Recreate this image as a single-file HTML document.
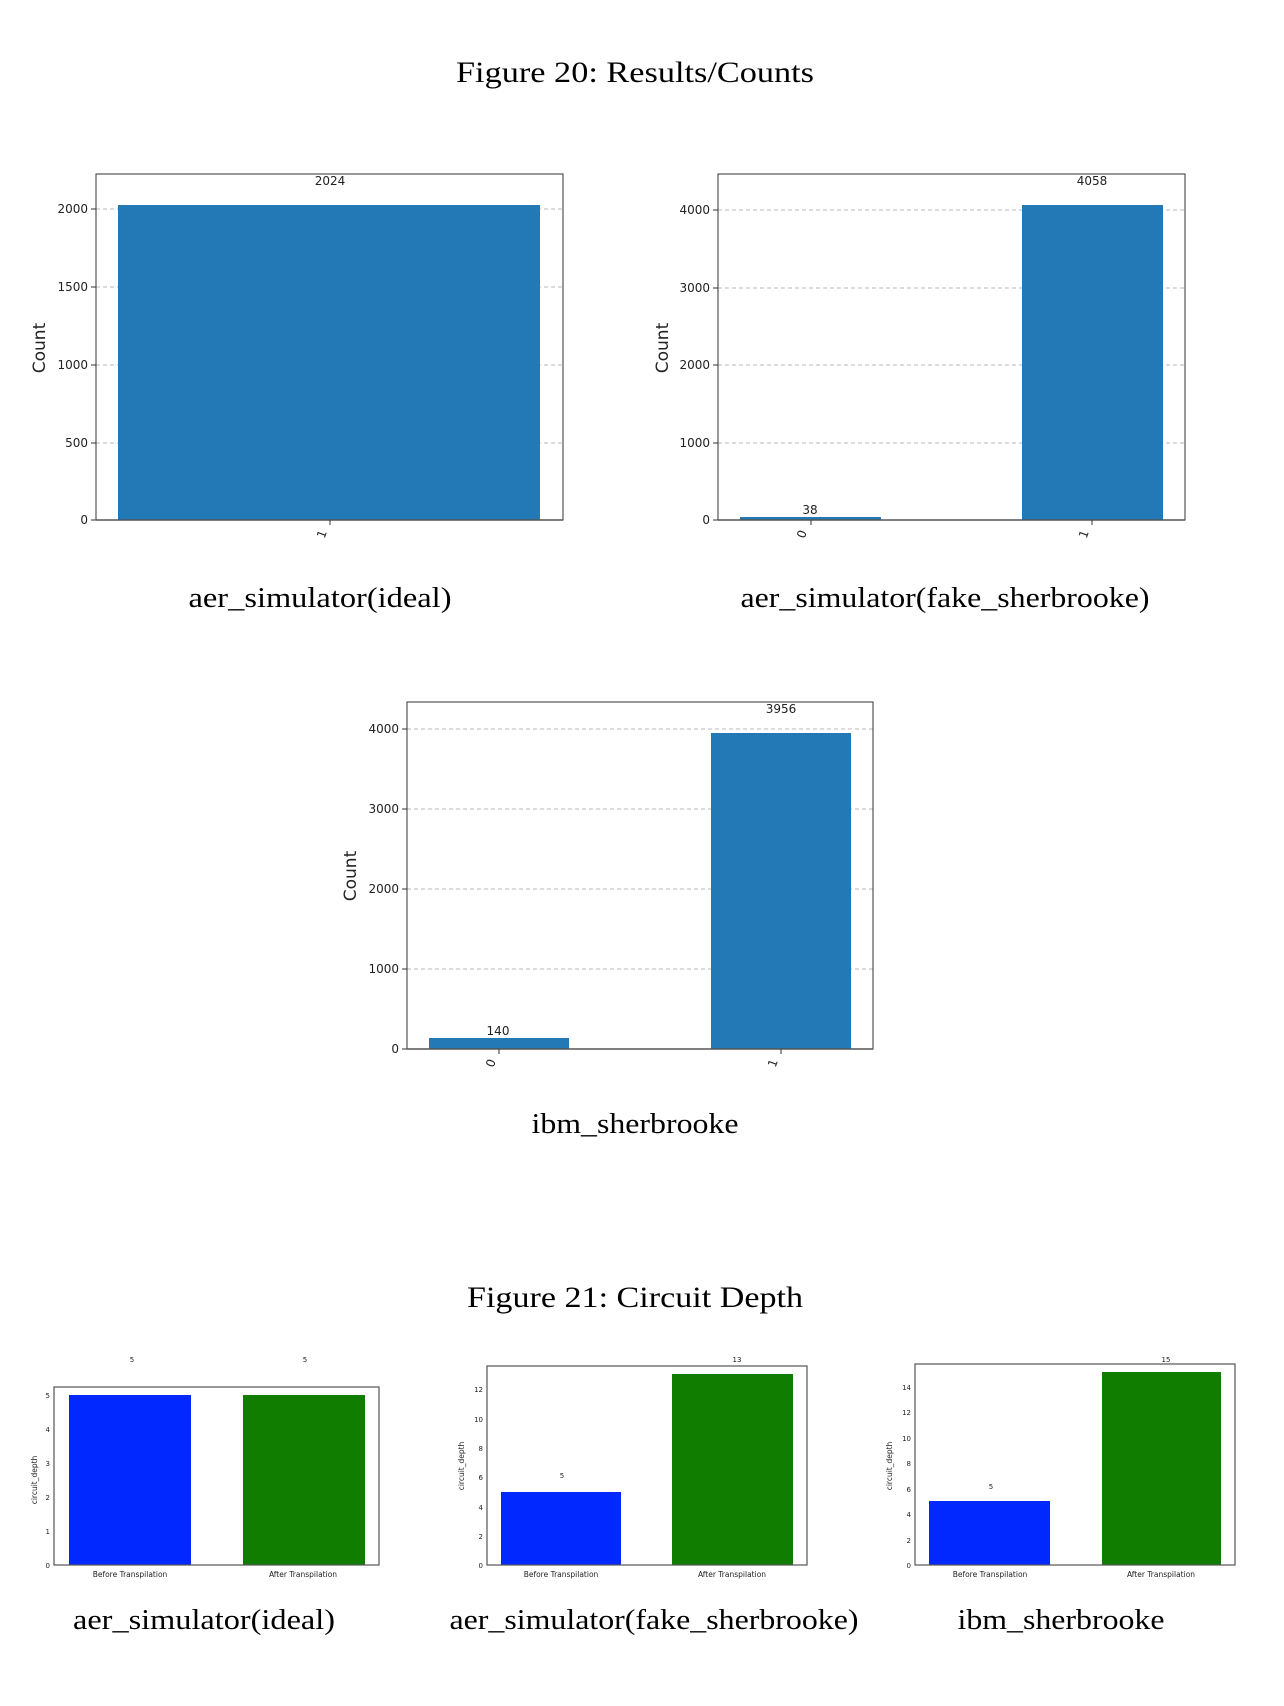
<!DOCTYPE html>
<html><head><meta charset="utf-8"><style>
html,body{margin:0;padding:0;background:#fff;}
svg{display:block;}
.serif{font-family:"Liberation Serif",serif;fill:#000;}
.sans{font-family:"DejaVu Sans","Liberation Sans",sans-serif;fill:#222;}
</style></head><body>
<svg width="1284" height="1706" viewBox="0 0 1284 1706" xmlns="http://www.w3.org/2000/svg">
<rect width="1284" height="1706" fill="#fff"/>
<text class="serif" x="635" y="82" font-size="30" text-anchor="middle" textLength="358" lengthAdjust="spacingAndGlyphs">Figure 20: Results/Counts</text>

<!-- Chart 1 -->
<g>
<line x1="96" x2="563" y1="443" y2="443" stroke="#bbb" stroke-dasharray="4,3"/>
<line x1="96" x2="563" y1="365" y2="365" stroke="#bbb" stroke-dasharray="4,3"/>
<line x1="96" x2="563" y1="287" y2="287" stroke="#bbb" stroke-dasharray="4,3"/>
<line x1="96" x2="563" y1="209" y2="209" stroke="#bbb" stroke-dasharray="4,3"/>
<rect x="118" y="205" width="422" height="315" fill="#2379b5"/>
<rect x="96" y="174" width="467" height="346" fill="none" stroke="#333" stroke-width="1"/>
<line x1="96" x2="563" y1="520" y2="520" stroke="#555" stroke-width="1.5"/>
<g class="sans" font-size="12" text-anchor="end">
<text x="88" y="524">0</text><text x="88" y="447">500</text><text x="88" y="369">1000</text><text x="88" y="291">1500</text><text x="88" y="213">2000</text>
</g>
<g stroke="#333"><line x1="91" x2="96" y1="520" y2="520"/><line x1="91" x2="96" y1="443" y2="443"/><line x1="91" x2="96" y1="365" y2="365"/><line x1="91" x2="96" y1="287" y2="287"/><line x1="91" x2="96" y1="209" y2="209"/><line x1="330" x2="330" y1="520" y2="525"/></g>
<text class="sans" x="330" y="185" font-size="12" text-anchor="middle">2024</text>
<text class="sans" font-size="12" transform="translate(327,532) rotate(-70)" text-anchor="end">1</text>
<text class="sans" font-size="17" transform="translate(45,348) rotate(-90)" text-anchor="middle">Count</text>
</g>
<text class="serif" x="320" y="607" font-size="28" text-anchor="middle" textLength="263" lengthAdjust="spacingAndGlyphs">aer_simulator(ideal)</text>

<!-- Chart 2 -->
<g transform="translate(-4,0)">
<line x1="722" x2="1189" y1="443" y2="443" stroke="#bbb" stroke-dasharray="4,3"/>
<line x1="722" x2="1189" y1="365" y2="365" stroke="#bbb" stroke-dasharray="4,3"/>
<line x1="722" x2="1189" y1="288" y2="288" stroke="#bbb" stroke-dasharray="4,3"/>
<line x1="722" x2="1189" y1="210" y2="210" stroke="#bbb" stroke-dasharray="4,3"/>
<rect x="744" y="517" width="141" height="3" fill="#2379b5"/>
<rect x="1026" y="205" width="141" height="315" fill="#2379b5"/>
<rect x="722" y="174" width="467" height="346" fill="none" stroke="#333" stroke-width="1"/>
<line x1="722" x2="1189" y1="520" y2="520" stroke="#555" stroke-width="1.5"/>
<g class="sans" font-size="12" text-anchor="end">
<text x="714" y="524">0</text><text x="714" y="447">1000</text><text x="714" y="369">2000</text><text x="714" y="292">3000</text><text x="714" y="214">4000</text>
</g>
<g stroke="#333"><line x1="717" x2="722" y1="520" y2="520"/><line x1="717" x2="722" y1="443" y2="443"/><line x1="717" x2="722" y1="365" y2="365"/><line x1="717" x2="722" y1="288" y2="288"/><line x1="717" x2="722" y1="210" y2="210"/><line x1="815" x2="815" y1="520" y2="525"/><line x1="1096" x2="1096" y1="520" y2="525"/></g>
<text class="sans" x="1096" y="185" font-size="12" text-anchor="middle">4058</text>
<text class="sans" x="814" y="514" font-size="12" text-anchor="middle">38</text>
<text class="sans" font-size="12" transform="translate(811,532) rotate(-70)" text-anchor="end">0</text>
<text class="sans" font-size="12" transform="translate(1093,532) rotate(-70)" text-anchor="end">1</text>
<text class="sans" font-size="17" transform="translate(672,348) rotate(-90)" text-anchor="middle">Count</text>
</g>
<text class="serif" x="945" y="607" font-size="28" text-anchor="middle" textLength="409" lengthAdjust="spacingAndGlyphs">aer_simulator(fake_sherbrooke)</text>

<!-- Chart 3 -->
<g transform="translate(-3,-1)">
<line x1="410" x2="876" y1="970" y2="970" stroke="#bbb" stroke-dasharray="4,3"/>
<line x1="410" x2="876" y1="890" y2="890" stroke="#bbb" stroke-dasharray="4,3"/>
<line x1="410" x2="876" y1="810" y2="810" stroke="#bbb" stroke-dasharray="4,3"/>
<line x1="410" x2="876" y1="730" y2="730" stroke="#bbb" stroke-dasharray="4,3"/>
<rect x="432" y="1039" width="140" height="11" fill="#2379b5"/>
<rect x="714" y="734" width="140" height="316" fill="#2379b5"/>
<rect x="410" y="703" width="466" height="347" fill="none" stroke="#333" stroke-width="1"/>
<line x1="410" x2="876" y1="1050" y2="1050" stroke="#555" stroke-width="1.5"/>
<g class="sans" font-size="12" text-anchor="end">
<text x="402" y="1054">0</text><text x="402" y="974">1000</text><text x="402" y="894">2000</text><text x="402" y="814">3000</text><text x="402" y="734">4000</text>
</g>
<g stroke="#333"><line x1="405" x2="410" y1="1050" y2="1050"/><line x1="405" x2="410" y1="970" y2="970"/><line x1="405" x2="410" y1="890" y2="890"/><line x1="405" x2="410" y1="810" y2="810"/><line x1="405" x2="410" y1="730" y2="730"/><line x1="502" x2="502" y1="1050" y2="1055"/><line x1="784" x2="784" y1="1050" y2="1055"/></g>
<text class="sans" x="784" y="714" font-size="12" text-anchor="middle">3956</text>
<text class="sans" x="501" y="1036" font-size="12" text-anchor="middle">140</text>
<text class="sans" font-size="12" transform="translate(499,1062) rotate(-70)" text-anchor="end">0</text>
<text class="sans" font-size="12" transform="translate(781,1062) rotate(-70)" text-anchor="end">1</text>
<text class="sans" font-size="17" transform="translate(359,877) rotate(-90)" text-anchor="middle">Count</text>
</g>
<text class="serif" x="635" y="1133" font-size="28" text-anchor="middle" textLength="207" lengthAdjust="spacingAndGlyphs">ibm_sherbrooke</text>

<text class="serif" x="635" y="1307" font-size="30" text-anchor="middle" textLength="336" lengthAdjust="spacingAndGlyphs">Figure 21: Circuit Depth</text>

<!-- B1 -->
<g>
<rect x="69" y="1395" width="122" height="170" fill="#0028ff"/>
<rect x="243" y="1395" width="122" height="170" fill="#107c00"/>
<rect x="54" y="1387" width="325" height="178" fill="none" stroke="#555" stroke-width="1.2"/>
<g class="sans" font-size="7" text-anchor="end">
<text x="50" y="1568">0</text><text x="50" y="1534">1</text><text x="50" y="1500">2</text><text x="50" y="1466">3</text><text x="50" y="1432">4</text><text x="50" y="1398">5</text>
</g>
<text class="sans" x="132" y="1362" font-size="7" text-anchor="middle">5</text>
<text class="sans" x="305" y="1362" font-size="7" text-anchor="middle">5</text>
<text class="sans" x="130" y="1577" font-size="7.5" text-anchor="middle">Before Transpilation</text>
<text class="sans" x="303" y="1577" font-size="7.5" text-anchor="middle">After Transpilation</text>
<text class="sans" font-size="7.5" transform="translate(37,1480) rotate(-90)" text-anchor="middle">circuit_depth</text>
</g>
<text class="serif" x="204" y="1629" font-size="28" text-anchor="middle" textLength="262" lengthAdjust="spacingAndGlyphs">aer_simulator(ideal)</text>

<!-- B2 -->
<g transform="translate(-3,0)">
<rect x="504" y="1492" width="120" height="73" fill="#0028ff"/>
<rect x="675" y="1374" width="121" height="191" fill="#107c00"/>
<rect x="490" y="1366" width="320" height="199" fill="none" stroke="#555" stroke-width="1.2"/>
<g class="sans" font-size="7" text-anchor="end">
<text x="486" y="1568">0</text><text x="486" y="1539">2</text><text x="486" y="1510">4</text><text x="486" y="1480">6</text><text x="486" y="1451">8</text><text x="486" y="1422">10</text><text x="486" y="1392">12</text>
</g>
<text class="sans" x="740" y="1362" font-size="7" text-anchor="middle">13</text>
<text class="sans" x="565" y="1478" font-size="7" text-anchor="middle">5</text>
<text class="sans" x="564" y="1577" font-size="7.5" text-anchor="middle">Before Transpilation</text>
<text class="sans" x="735" y="1577" font-size="7.5" text-anchor="middle">After Transpilation</text>
<text class="sans" font-size="7.5" transform="translate(467,1466) rotate(-90)" text-anchor="middle">circuit_depth</text>
</g>
<text class="serif" x="654" y="1629" font-size="28" text-anchor="middle" textLength="409" lengthAdjust="spacingAndGlyphs">aer_simulator(fake_sherbrooke)</text>

<!-- B3 -->
<g transform="translate(-4,0)">
<rect x="933" y="1501" width="121" height="64" fill="#0028ff"/>
<rect x="1106" y="1372" width="119" height="193" fill="#107c00"/>
<rect x="919" y="1364" width="320" height="201" fill="none" stroke="#555" stroke-width="1.2"/>
<g class="sans" font-size="7" text-anchor="end">
<text x="915" y="1568">0</text><text x="915" y="1543">2</text><text x="915" y="1517">4</text><text x="915" y="1492">6</text><text x="915" y="1466">8</text><text x="915" y="1441">10</text><text x="915" y="1415">12</text><text x="915" y="1390">14</text>
</g>
<text class="sans" x="1170" y="1362" font-size="7" text-anchor="middle">15</text>
<text class="sans" x="995" y="1489" font-size="7" text-anchor="middle">5</text>
<text class="sans" x="994" y="1577" font-size="7.5" text-anchor="middle">Before Transpilation</text>
<text class="sans" x="1165" y="1577" font-size="7.5" text-anchor="middle">After Transpilation</text>
<text class="sans" font-size="7.5" transform="translate(896,1466) rotate(-90)" text-anchor="middle">circuit_depth</text>
</g>
<text class="serif" x="1061" y="1629" font-size="28" text-anchor="middle" textLength="207" lengthAdjust="spacingAndGlyphs">ibm_sherbrooke</text>
</svg>
</body></html>
